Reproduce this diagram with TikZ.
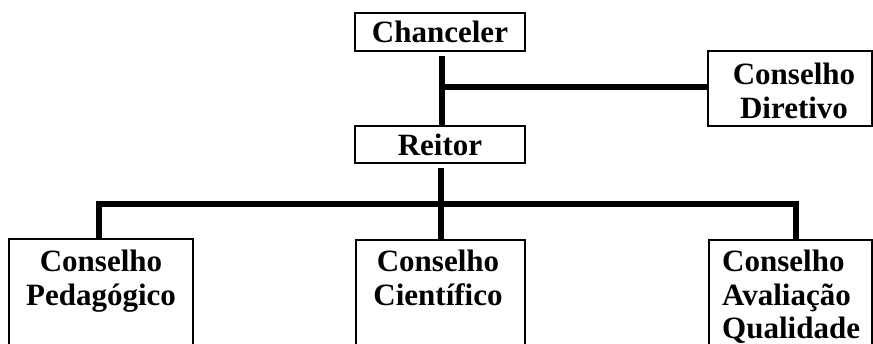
\documentclass[tikz,border=0pt]{standalone}
\usepackage{fontspec}
\setmainfont{Liberation Serif}
\begin{document}
\begin{tikzpicture}[x=1pt,y=-1pt,
  box/.style={draw=black,line width=2pt,inner sep=0pt,fill=white},
  lbl/.style={font=\fontsize{31}{33.5}\selectfont\bfseries,inner sep=0pt},
  conn/.style={line width=6pt}]
\useasboundingbox (0,0) rectangle (873,343);
\clip (0,0) rectangle (873,343);
% top boxes
\node[box,lbl,minimum width=170pt,minimum height=38pt] (chan) at (440,32) {Chanceler};
\node[box,lbl,minimum width=170pt,minimum height=37pt] (reit) at (440,144.5) {Reitor};
\node[box,minimum width=164pt,minimum height=75pt] (dir) at (790,88.5) {};
\node[lbl,align=center,anchor=north] (dirt) at (794,63) {Conselho\\Diretivo};
% bottom boxes
\node[box,anchor=north,minimum width=184pt,minimum height=160pt] (ped) at (101,238) {};
\node[box,anchor=north,minimum width=169pt,minimum height=160pt] (cie) at (440.5,239) {};
\node[box,anchor=north,minimum width=163pt,minimum height=160pt] (ava) at (790.5,239) {};
\node[lbl,align=center,anchor=north] (pedt) at (101,250) {Conselho\\Pedagógico};
\node[lbl,align=center,anchor=north] (ciet) at (438,250) {Conselho\\Científico};
\node[lbl,align=left,anchor=north west] (avat) at (722,250) {Conselho\\Avaliação\\Qualidade};
% junctions
\coordinate (j1) at (442,87);
\coordinate (j2) at (441,204);
\coordinate (jl) at (99,204);
\coordinate (jr) at (796,204);
% connectors
\draw[conn] (chan.south -| j1) ++(0,4) -- (reit.north -| j1);
\draw[conn] (j1) -- (dir.west |- j1);
\draw[conn] (reit.south -| j2) ++(0,4) -- (cie.north -| j2);
\draw[conn,line join=miter] (ped.north -| jl) -- (jl) -- (jr) -- (ava.north -| jr);
\end{tikzpicture}
\end{document}
